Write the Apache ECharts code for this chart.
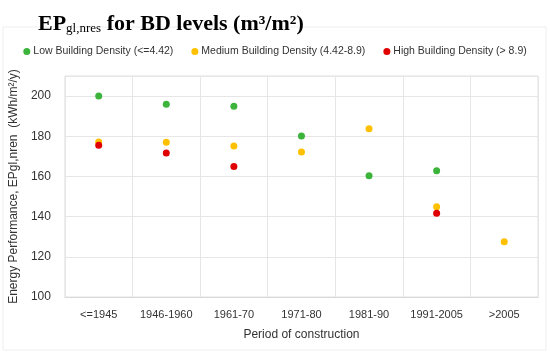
<!DOCTYPE html>
<html><head><meta charset="utf-8">
<script src="https://cdn.jsdelivr.net/npm/echarts@6/dist/echarts.min.js"></script>
<style>html,body{margin:0;padding:0;background:#fff}#c{width:550px;height:355px}</style>
</head><body><div id="c"></div>
<script>
var categories = ['<=1945','1946-1960','1961-70','1971-80','1981-90','1991-2005','>2005'];
var lowDensity = [200, 195.9, 194.9, 180.1, 160.3, 162.9, null];
var mediumDensity = [177.1, 177, 175.2, 172.2, 183.8, 144.9, 127.5];
var highDensity = [175.5, 171.7, 164.9, null, null, 141.7, null];
var yTicks = {min: 100, max: 210, interval: 20};

var chart = echarts.init(document.getElementById('c'), null, {renderer: 'canvas'});
var font = '"Liberation Sans", Arial, sans-serif';
function ser(name, data, color) {
  return {name: name, type: 'scatter', data: data, symbolSize: 7,
    itemStyle: {color: color, opacity: 1}, emphasis: {disabled: true}};
}
chart.setOption({
  animation: false,
  backgroundColor: '#fff',
  title: {
    text: '{a|EP}{b|gl,nres}{a| for BD levels (m³/m²)}',
    left: 33, top: 2,
    textStyle: {rich: {
      a: {fontFamily: 'Liberation Serif, DejaVu Serif, serif', fontWeight: 'bold', fontSize: 22, color: '#000', verticalAlign: 'bottom', lineHeight: 28},
      b: {fontFamily: 'Liberation Serif, DejaVu Serif, serif', fontWeight: 'normal', fontSize: 13, color: '#000', verticalAlign: 'bottom', lineHeight: 22}
    }}
  },
  graphic: [{type: 'rect', shape: {x: 3, y: 27, width: 543, height: 323},
    style: {fill: 'none', stroke: '#eeeeee', lineWidth: 1}, silent: true, z: -1}],
  legend: {
    top: 46, left: 'center', width: 530, itemGap: 18, itemWidth: 7, itemHeight: 7,
    icon: 'circle', padding: 0,
    textStyle: {fontFamily: font, fontSize: 10.5, color: '#333', padding: [0,0,0,-2]},
    data: ['Low Building Density (<=4.42)','Medium Building Density (4.42-8.9)','High Building Density (> 8.9)']
  },
  grid: {left: 59, right: 12, top: 76, bottom: 58, show: true, borderColor: '#e0e0e0', borderWidth: 1},
  xAxis: {
    type: 'category', data: categories, boundaryGap: true,
    name: 'Period of construction', nameLocation: 'middle', nameGap: 32,
    nameTextStyle: {fontFamily: font, fontSize: 12, color: '#333'},
    axisLine: {show: true, lineStyle: {color: '#d9d9d9'}},
    axisTick: {show: false},
    axisLabel: {fontFamily: font, fontSize: 11, color: '#333', margin: 12, interval: 0},
    splitLine: {show: true, interval: 0, lineStyle: {color: '#e6e6e6'}}
  },
  yAxis: {
    type: 'value', min: yTicks.min, max: yTicks.max, interval: yTicks.interval,
    name: 'Energy Performance, EPgl,nren  (kWh/m²/y)', nameLocation: 'middle', nameGap: 38,
    nameTextStyle: {fontFamily: font, fontSize: 12, color: '#333'},
    axisLine: {show: false}, axisTick: {show: false},
    axisLabel: {fontFamily: font, fontSize: 12, color: '#333', margin: 14,
      formatter: function(v){ return v % 20 === 0 ? v : ''; }},
    splitLine: {show: true, lineStyle: {color: '#e6e6e6'}}
  },
  series: [
    ser('Low Building Density (<=4.42)', lowDensity, '#3cb43c'),
    ser('Medium Building Density (4.42-8.9)', mediumDensity, '#ffc000'),
    ser('High Building Density (> 8.9)', highDensity, '#e00000')
  ]
});
</script></body></html>
